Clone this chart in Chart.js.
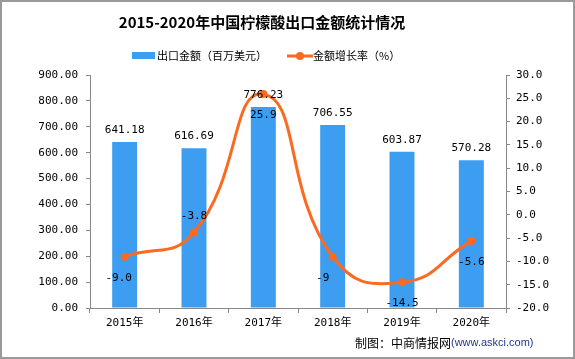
<!DOCTYPE html>
<html>
<head>
<meta charset="utf-8">
<script src="https://cdn.jsdelivr.net/npm/chart.js@4.4.1/dist/chart.umd.min.js"></script>
<style>
  html, body { margin: 0; padding: 0; background: #fff; }
  #wrap { width: 575px; height: 359px; position: relative; }
</style>
</head>
<body>
<div id="wrap"><canvas id="chart" width="575" height="359"></canvas></div>
<script>
// ==================== DADOS ====================
const anos = ['2015年', '2016年', '2017年', '2018年', '2019年', '2020年'];
const exportacao = [641.18, 616.69, 776.23, 706.55, 603.87, 570.28];
const crescimento = [-9.0, -3.8, 25.9, -9, -14.5, -5.6];
const crescimentoTexto = ['-9.0', '-3.8', '25.9', '-9', '-14.5', '-5.6'];
const ticksEsquerda = { min: 0, max: 900, step: 100 };
const ticksDireita = { min: -20, max: 30, step: 5 };

const titulo = '2015-2020年中国柠檬酸出口金额统计情况';
const legendaBarra = '出口金额（百万美元）';
const legendaLinha = '金额增长率（%）';

const AZUL = '#3d9df0';
const LARANJA = '#fb6a1f';
const NUM_FONT = "'DejaVu Sans Mono', 'Noto Sans CJK SC', monospace";

// ==================== PLUGIN: rótulos, título, legenda ====================
const decoracao = {
    id: 'decoracao',
    afterDatasetsDraw(chart) {
        const ctx = chart.ctx;
        ctx.save();
        ctx.fillStyle = '#000';
        ctx.font = '11px ' + NUM_FONT;
        ctx.textAlign = 'center';
        ctx.textBaseline = 'middle';

        // rótulos das barras (dataset 1)
        chart.getDatasetMeta(1).data.forEach((bar, i) => {
            ctx.fillText(exportacao[i].toFixed(2), bar.x, bar.y - 12);
        });

        // rótulos da linha (dataset 0) - acima só para 2016
        chart.getDatasetMeta(0).data.forEach((pt, i) => {
            const acima = i === 1;
            const dx = (i === 0 ? -6 : (i === 3 ? -10 : 0));
            ctx.fillText(crescimentoTexto[i], pt.x + dx, acima ? pt.y - 16 : pt.y + 21);
        });
        ctx.restore();
    },
    afterDraw(chart) {
        const ctx = chart.ctx;
        ctx.save();
        // borda
        ctx.strokeStyle = '#9a9a9a';
        ctx.lineWidth = 2;
        ctx.strokeRect(1, 1, 573, 357);

        // título
        ctx.fillStyle = '#000';
        ctx.font = "bold 15px 'Noto Sans CJK SC', sans-serif";
        ctx.textAlign = 'center';
        ctx.textBaseline = 'middle';
        ctx.fillText(titulo, 262, 22);

        // legenda
        ctx.font = "11px 'Noto Sans CJK SC', sans-serif";
        ctx.textAlign = 'left';
        ctx.fillStyle = AZUL;
        ctx.fillRect(132, 52, 23, 7);
        ctx.fillStyle = '#000';
        ctx.fillText(legendaBarra, 157, 56);

        ctx.strokeStyle = LARANJA;
        ctx.lineWidth = 3;
        ctx.beginPath();
        ctx.moveTo(287, 56);
        ctx.lineTo(313, 56);
        ctx.stroke();
        ctx.fillStyle = LARANJA;
        ctx.beginPath();
        ctx.arc(300, 56, 4, 0, Math.PI * 2);
        ctx.fill();
        ctx.fillStyle = '#000';
        ctx.fillText(legendaLinha, 313, 56);

        // fonte
        ctx.font = "12px 'Noto Sans CJK SC', sans-serif";
        const fonte1 = '制图：中商情报网';
        ctx.fillText(fonte1, 355, 343);
        const w = ctx.measureText(fonte1).width;
        ctx.fillStyle = '#1f3a8a';
        ctx.font = "11px 'Liberation Sans', sans-serif";
        ctx.fillText('(www.askci.com)', 355 + w, 343);
        ctx.restore();
    }
};

// ==================== GRÁFICO ====================
Chart.defaults.font.family = NUM_FONT;
Chart.defaults.font.size = 11;
Chart.defaults.color = '#000';

new Chart(document.getElementById('chart'), {
    data: {
        labels: anos,
        datasets: [
            {
                type: 'line',
                label: legendaLinha,
                data: crescimento,
                yAxisID: 'y1',
                borderColor: LARANJA,
                backgroundColor: LARANJA,
                borderWidth: 3,
                pointRadius: 4,
                pointBackgroundColor: LARANJA,
                pointBorderWidth: 0,
                tension: 0.5,
                order: 0
            },
            {
                type: 'bar',
                label: legendaBarra,
                data: exportacao,
                yAxisID: 'y',
                backgroundColor: AZUL,
                barPercentage: 0.36,
                categoryPercentage: 1,
                order: 1
            }
        ]
    },
    options: {
        responsive: false,
        animation: false,
        layout: { padding: { top: 75, left: 0, right: 0, bottom: 0 } },
        plugins: {
            legend: { display: false },
            title: { display: false },
            tooltip: { enabled: false }
        },
        scales: {
            x: {
                offset: true,
                grid: { display: true, drawOnChartArea: false, offset: true, tickLength: 5, color: '#888' },
                border: { color: '#888' },
                ticks: { padding: 4, font: { family: NUM_FONT, size: 11 } },
                afterFit(scale) { scale.height = 51; }
            },
            y: {
                position: 'left',
                min: ticksEsquerda.min,
                max: ticksEsquerda.max,
                grid: { drawOnChartArea: false, tickLength: 4, color: '#888' },
                border: { color: '#888' },
                ticks: {
                    stepSize: ticksEsquerda.step,
                    padding: 8,
                    callback: v => v.toFixed(2)
                },
                afterFit(scale) { scale.width = 90; }
            },
            y1: {
                position: 'right',
                min: ticksDireita.min,
                max: ticksDireita.max,
                grid: { drawOnChartArea: false, tickLength: 4, color: '#888' },
                border: { color: '#888' },
                ticks: {
                    stepSize: ticksDireita.step,
                    padding: 6,
                    callback: v => v.toFixed(1)
                },
                afterFit(scale) { scale.width = 69; }
            }
        }
    },
    plugins: [decoracao]
});
</script>
</body>
</html>
